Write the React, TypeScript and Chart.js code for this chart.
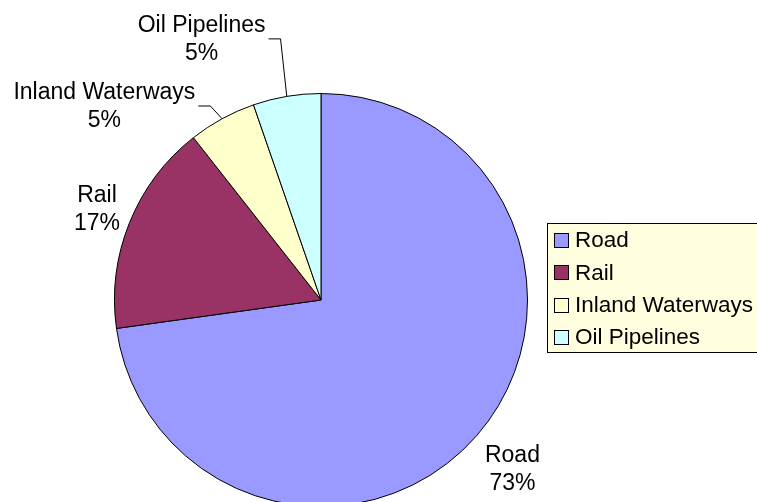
import React, { useEffect, useRef } from "react";
import { Chart, registerables } from "chart.js";

Chart.register(...registerables);

const categories = ["Road", "Rail", "Inland Waterways", "Oil Pipelines"];
const shares = [72.8, 16.6, 5.3, 5.3];
const sliceColors = ["#9999FF", "#993366", "#FFFFCC", "#CCFFFF"];

// label placement relative to pie centre, in units of the radius (x of text centre, y of first baseline)
const labelOffsets = [
  { fx: 0.927, fy: 0.786, leader: false },
  { fx: -1.085, fy: -0.476, leader: false },
  { fx: -1.049, fy: -0.971, leader: true },
  { fx: -0.578, fy: -1.296, leader: true },
];

const FONT = '"Liberation Sans", Arial, sans-serif';

const labelPlugin = {
  id: "pieLabels",
  afterDatasetsDraw(chart: any) {
    const ctx = chart.ctx;
    const meta = chart.getDatasetMeta(0);
    const data = chart.data.datasets[0].data as number[];
    const total = data.reduce((a, b) => a + b, 0);
    ctx.save();
    ctx.font = `23px ${FONT}`;
    ctx.fillStyle = "#000";
    ctx.textAlign = "center";
    ctx.textBaseline = "alphabetic";
    meta.data.forEach((arc: any, i: number) => {
      const { x, y, outerRadius, startAngle, endAngle } = arc.getProps(
        ["x", "y", "outerRadius", "startAngle", "endAngle"],
        true
      );
      const off = labelOffsets[i];
      const lx = x + off.fx * outerRadius;
      const ly = y + off.fy * outerRadius;
      const name = chart.data.labels[i];
      const pct = Math.round((data[i] / total) * 100) + "%";
      ctx.fillText(name, lx, ly);
      ctx.fillText(pct, lx, ly + 28);
      if (off.leader) {
        const mid = (startAngle + endAngle) / 2;
        const px = x + Math.cos(mid) * outerRadius;
        const py = y + Math.sin(mid) * outerRadius;
        const w = ctx.measureText(name).width;
        const sx = lx + w / 2 + 3;
        const sy = ly + 6;
        ctx.beginPath();
        ctx.strokeStyle = "#000";
        ctx.lineWidth = 1;
        ctx.moveTo(sx, sy + 0.5);
        ctx.lineTo(sx + 12, sy + 0.5);
        ctx.lineTo(px, py);
        ctx.stroke();
      }
    });
    ctx.restore();
  },
};

const legendPlugin = {
  id: "boxLegend",
  afterDraw(chart: any) {
    const ctx = chart.ctx;
    const left = 547.5;
    const top = 223.5;
    const width = 220;
    const height = 129;
    ctx.save();
    ctx.fillStyle = "#FFFFE0";
    ctx.fillRect(left, top, width, height);
    ctx.strokeStyle = "#000";
    ctx.lineWidth = 1;
    ctx.strokeRect(left, top, width, height);
    ctx.font = `22.5px ${FONT}`;
    ctx.textBaseline = "middle";
    ctx.textAlign = "left";
    const labels = chart.data.labels as string[];
    const colors = chart.data.datasets[0].backgroundColor as string[];
    labels.forEach((lab, i) => {
      const cy = 240 + i * 32.3;
      const bx = 554.5;
      const by = Math.round(cy - 7) + 0.5;
      ctx.fillStyle = colors[i];
      ctx.fillRect(bx, by, 14, 14);
      ctx.strokeStyle = "#000";
      ctx.strokeRect(bx, by, 14, 14);
      ctx.fillStyle = "#000";
      ctx.fillText(lab, 575, cy + 1);
    });
    ctx.restore();
  },
};

export default function App() {
  const ref = useRef<HTMLCanvasElement | null>(null);
  useEffect(() => {
    document.body.style.margin = "0";
    const chart = new Chart(ref.current as HTMLCanvasElement, {
      type: "pie",
      data: {
        labels: categories,
        datasets: [
          {
            data: shares,
            backgroundColor: sliceColors,
            borderColor: "#000",
            borderWidth: 1,
            hoverBorderWidth: 1,
            hoverOffset: 0,
          },
        ],
      },
      options: {
        animation: false,
        responsive: false,
        events: [],
        layout: { padding: { left: 114, right: 229, top: 93, bottom: 13 } },
        plugins: {
          legend: { display: false },
          tooltip: { enabled: false },
        },
      },
      plugins: [labelPlugin, legendPlugin],
    });
    return () => chart.destroy();
  }, []);
  return (
    <div
      style={{
        position: "absolute",
        left: 0,
        top: 0,
        width: 757,
        height: 502,
        overflow: "hidden",
        background: "#fff",
      }}
    >
      <canvas ref={ref} width={757} height={520} style={{ display: "block" }} />
    </div>
  );
}
